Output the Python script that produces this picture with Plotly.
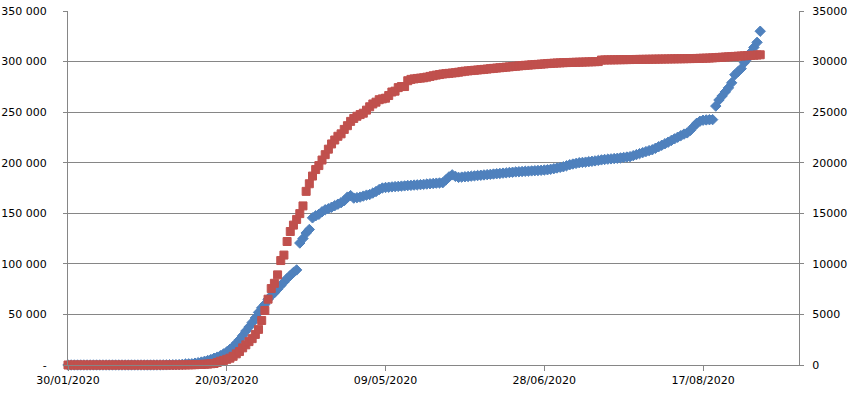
import pandas as pd
import plotly.graph_objects as go

start_date = "2020-01-30"

# Blue diamonds, left axis (cumulative cases), one value per day from 30/01/2020
cases = [
    5, 6, 6, 6, 6, 6, 6, 6, 6, 11, 11, 11, 11, 11, 11, 11, 12, 12, 12, 12, 12, 12, 12, 12, 12, 12,
    14, 18, 38, 57, 100,
    130, 190, 210, 290, 390, 660, 960, 1140, 1220, 1800, 2300, 2900, 3700, 4500, 5400, 6700, 7800, 9200, 11000,
    13000, 15500, 18000, 21500, 25000, 29000, 33500, 37500, 42000, 46500, 52000, 56500, 60000, 65000, 68500,
    71500, 75000, 78500, 82000, 85500, 88500, 91500, 94000,
    120600, 125000, 130500, 134000, 145500, 147500, 149000, 151500, 153500, 154500, 156000, 157500, 159000,
    160500, 162500, 166000, 167500, 165000, 165500, 166000, 167000, 168000, 168500, 170000, 171500, 173500, 175000,
    175500, 175800, 176100, 176400, 176600, 176900, 177100, 177400, 177600, 177900, 178100, 178300, 178600,
    178900, 179200, 179500, 179800, 180000, 180200,
    183000, 186000, 188000, 186500, 185500,
    185800, 186100, 186400, 186700, 187000, 187300, 187600, 187900, 188200, 188500, 188800, 189100, 189400,
    189700, 190000, 190300, 190600, 190900,
    191100, 191300, 191500, 191700, 191900, 192100, 192300, 192500, 192800, 193000, 193500, 194100, 194800,
    195400, 196000, 197000, 198000, 198700, 199300, 200000,
    200300, 200600, 201000, 201400, 201800, 202300, 202800, 203200, 203500, 203800, 204100, 204400, 204800,
    205200, 205600, 206000, 207000, 208000, 209000, 210000, 211000, 212000, 212800, 214300, 215800, 217300,
    218800, 220300, 222000, 223600, 225200, 226800, 228300, 229500, 232000, 235500, 239000, 241000, 242000,
    242300, 242500, 242600,
    256000, 262000, 266000, 270000, 274000, 279000, 287000, 290000, 293000, 299000, 303000, 309000, 314000,
    319000, 330000,
]

# Red squares, right axis (cumulative deaths), one value per day from 30/01/2020
deaths = [
    0, 0, 0, 0, 0, 0, 0, 0, 0, 0, 0, 0, 0, 0, 0, 0,
    1, 1, 1, 1, 1, 1, 1, 1, 1, 1, 1, 1, 1, 1, 1,
    2, 3, 4, 4, 6, 9, 11, 19, 25, 33, 48, 48, 79, 91,
    127, 148, 244, 372, 450,
    562, 674, 860, 1100, 1331, 1696, 1995, 2314, 2606, 3024, 3523, 4403, 5387, 6507, 7560, 8078, 8911,
    10328, 10869, 12210, 13197, 13832, 14393, 14967, 15729, 17167, 17920, 18681, 19323, 19718, 20265,
    20796, 21340, 21856, 22245, 22614, 22856, 23293, 23660, 24087, 24376, 24594, 24760, 24895, 25201,
    25531, 25809, 25987, 26230, 26310, 26380, 26643, 26991, 27074, 27425, 27529, 27532,
    28108, 28239, 28289, 28332, 28367, 28400, 28460, 28533, 28599, 28665, 28717, 28774, 28805, 28836, 28870,
    28900, 28950, 29000, 29050, 29080, 29110, 29140, 29170, 29200, 29230, 29260, 29300, 29330, 29360,
    29390, 29420, 29450, 29480, 29510, 29540, 29570, 29600, 29630, 29650, 29680, 29700, 29720, 29750,
    29770, 29800, 29820, 29840, 29860, 29870, 29890, 29900, 29910, 29920, 29930, 29940, 29950, 29960,
    29970, 29980, 29990, 30000, 30150, 30160, 30165, 30170, 30175, 30180, 30185, 30190, 30195, 30200,
    30205, 30210, 30215, 30220, 30225, 30230, 30235, 30240, 30245, 30250, 30255, 30260, 30265, 30270,
    30275, 30280, 30285, 30290, 30295, 30300, 30310, 30320, 30330, 30340, 30350, 30370, 30390, 30410,
    30430, 30450, 30470, 30490, 30510, 30530, 30550, 30570, 30590, 30610, 30630, 30650, 30670,
]

left_tick_values = [0, 50000, 100000, 150000, 200000, 250000, 300000, 350000]
left_tick_labels = ["-", "50 000", "100 000", "150 000", "200 000", "250 000", "300 000", "350 000"]
right_tick_values = [0, 5000, 10000, 15000, 20000, 25000, 30000, 35000]
right_tick_labels = ["0", "5000", "10000", "15000", "20000", "25000", "30000", "35000"]

case_dates = pd.date_range(start_date, periods=len(cases), freq="D")
death_dates = pd.date_range(start_date, periods=len(deaths), freq="D")

BLUE = "#4F81BD"
RED = "#C0504D"
GRID = "#868686"
FONT = dict(family="DejaVu Sans", size=11, color="#000000")

fig = go.Figure()
fig.add_trace(go.Scatter(
    x=case_dates, y=cases, mode="markers", yaxis="y", cliponaxis=False,
    marker=dict(symbol="diamond", size=8, color=BLUE, line=dict(color=BLUE, width=1)),
    showlegend=False,
))
fig.add_trace(go.Scatter(
    x=death_dates, y=deaths, mode="markers", yaxis="y2", cliponaxis=False,
    marker=dict(symbol="square", size=8, color=RED, line=dict(color=RED, width=1)),
    showlegend=False,
))

fig.update_layout(
    width=849, height=396, autosize=False,
    margin=dict(l=68, r=50, t=11, b=31, pad=0),
    paper_bgcolor="white", plot_bgcolor="white",
    font=FONT,
    showlegend=False,
    xaxis=dict(
        type="date",
        range=["2020-01-30", "2020-09-16 05:00"],
        tick0="2020-01-30", dtick=50 * 86400000,
        tickformat="%d/%m/%Y",
        showgrid=False, zeroline=False,
        showline=True, linecolor=GRID, linewidth=1,
        ticks="outside", ticklen=5, tickcolor=GRID,
        tickfont=FONT, automargin=False,
    ),
    yaxis=dict(
        range=[0, 350000],
        tickvals=left_tick_values, ticktext=left_tick_labels,
        showgrid=True, gridcolor=GRID, gridwidth=1,
        zeroline=False,
        showline=True, linecolor=GRID, linewidth=1,
        ticks="outside", ticklen=4, tickcolor=GRID,
        ticklabelstandoff=14,
        tickfont=FONT, automargin=False,
    ),
    yaxis2=dict(
        range=[0, 35000],
        overlaying="y", side="right",
        tickvals=right_tick_values, ticktext=right_tick_labels,
        showgrid=False, zeroline=False,
        showline=True, linecolor=GRID, linewidth=1,
        ticks="outside", ticklen=4, tickcolor=GRID,
        ticklabelstandoff=6,
        tickfont=FONT, automargin=False,
    ),
)

fig.write_html(
    "out.html",
    config={"displayModeBar": False},
    post_script="document.body.style.margin='0';document.body.style.overflow='hidden';",
)
